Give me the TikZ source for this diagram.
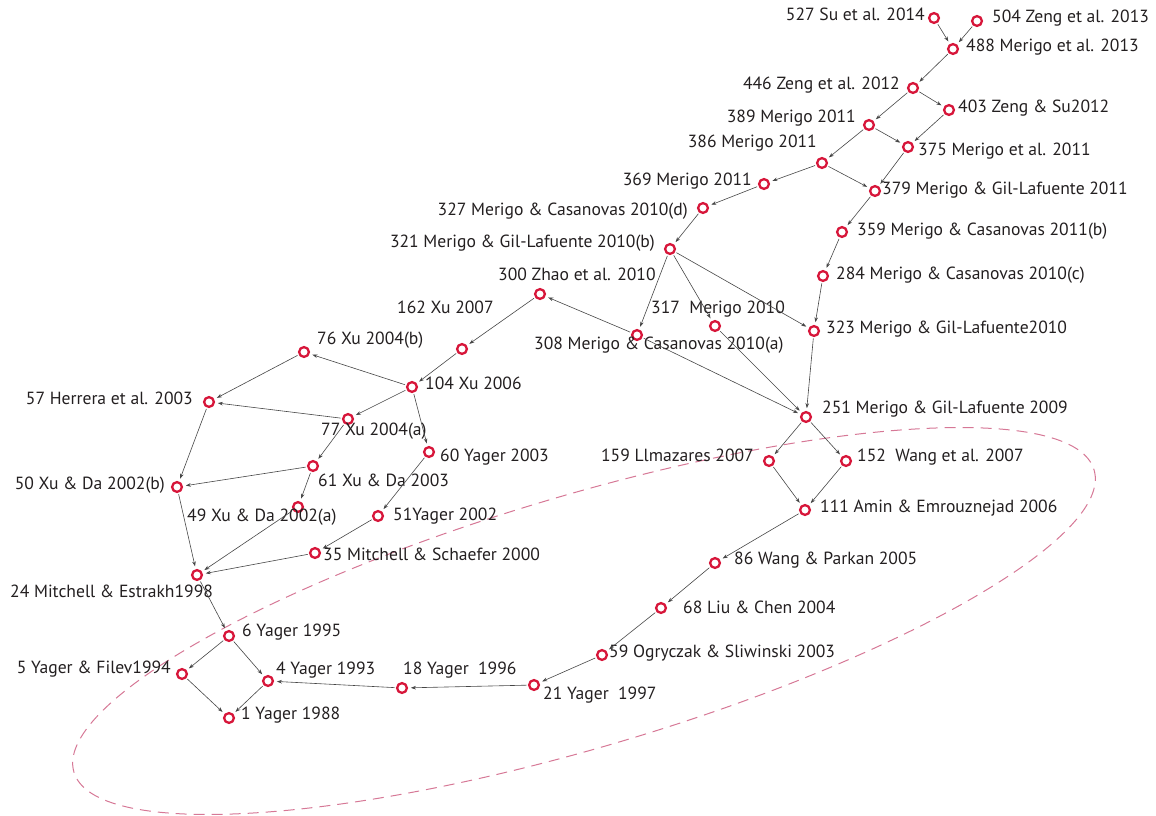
\documentclass[tikz,border=0pt]{standalone}
\usepackage{fontspec}
\setmainfont{PT Sans}
\usetikzlibrary{arrows.meta}
\definecolor{ring}{RGB}{215,22,58}
\definecolor{ink}{RGB}{35,31,32}
\definecolor{wire}{RGB}{70,70,70}
\definecolor{hull}{RGB}{214,120,150}
\begin{document}
\begin{tikzpicture}[x=1pt,y=-1pt,
  paper/.style={circle,draw=ring,line width=2.3pt,minimum size=9.8pt,inner sep=0pt,outer sep=1pt},
  cite/.style={-{Stealth[length=5pt,width=3.6pt]},draw=wire,line width=0.6pt,shorten >=3pt,shorten <=1.5pt},
  lbl/.style={text=ink,font=\fontsize{17.6}{20}\selectfont,inner sep=0pt},
  lw/.style={lbl,anchor=mid west},
  le/.style={lbl,anchor=mid east}]
\useasboundingbox (0,0) rectangle (1156,816);

% dashed hull around the older part of the main path
\draw[hull,line width=1pt,dash pattern=on 11pt off 7pt,rotate around={16.5:(584,621)}]
  (584,621) ellipse [x radius=532,y radius=126];

% papers
\node[paper] (p527) at (934,18) {};
\node[paper] (p504) at (977,21) {};
\node[paper] (p488) at (953,49) {};
\node[paper] (p446) at (913,88) {};
\node[paper] (p403) at (949,110) {};
\node[paper] (p389) at (869,125) {};
\node[paper] (p375) at (908,147) {};
\node[paper] (p386) at (822,163) {};
\node[paper] (p369) at (764,184) {};
\node[paper] (p379) at (875,191) {};
\node[paper] (p327) at (703,208) {};
\node[paper] (p359) at (842,232) {};
\node[paper] (p321) at (670,249) {};
\node[paper] (p284) at (823,276) {};
\node[paper] (p300) at (540,294) {};
\node[paper] (p317) at (715,326) {};
\node[paper] (p308) at (637,335) {};
\node[paper] (p323) at (814,331) {};
\node[paper] (p162) at (462,349) {};
\node[paper] (p76) at (304,352) {};
\node[paper] (p104) at (412,387) {};
\node[paper] (p57) at (209,402) {};
\node[paper] (p251) at (806,417) {};
\node[paper] (p77) at (348,419) {};
\node[paper] (p60) at (429,452) {};
\node[paper] (p159) at (769,461) {};
\node[paper] (p152) at (846,461) {};
\node[paper] (p61) at (313,466) {};
\node[paper] (p50) at (177,487) {};
\node[paper] (p111) at (805,510) {};
\node[paper] (p49) at (298,507) {};
\node[paper] (p51) at (378,516) {};
\node[paper] (p35) at (315,553) {};
\node[paper] (p86) at (715,563) {};
\node[paper] (p24) at (197,575) {};
\node[paper] (p68) at (661,608) {};
\node[paper] (p6) at (229,636) {};
\node[paper] (p59) at (602,655) {};
\node[paper] (p5) at (182,674) {};
\node[paper] (p4) at (268,681) {};
\node[paper] (p18) at (402,688) {};
\node[paper] (p21) at (534,685) {};
\node[paper] (p1) at (229,718) {};

% labels
\node[le] (t527) at (925,18) {527 Su et al. 2014};
\node[lw] (t504) at (992,20) {504 Zeng et al. 2013};
\node[lw] (t488) at (966,49) {488 Merigo et al. 2013};
\node[le] (t446) at (900,87) {446 Zeng et al. 2012};
\node[lw] (t403) at (958,110) {403 Zeng \& Su2012};
\node[le] (t389) at (856,120) {389 Merigo 2011};
\node[lw] (t375) at (918,153) {375 Merigo et al. 2011};
\node[le] (t386) at (817,145) {386 Merigo 2011};
\node[le] (t369) at (752,183) {369 Merigo 2011};
\node[lw] (t379) at (882,192) {379 Merigo \& Gil-Lafuente 2011};
\node[le] (t327) at (688,213) {327 Merigo \& Casanovas 2010(d)};
\node[lw] (t359) at (857,233) {359 Merigo \& Casanovas 2011(b)};
\node[le] (t321) at (655,245) {321 Merigo \& Gil-Lafuente 2010(b)};
\node[lw] (t284) at (836,277) {284 Merigo \& Casanovas 2010(c)};
\node[lw] (t300) at (498,278) {300 Zhao et al. 2010};
\node[lw] (t162) at (397,311) {162 Xu 2007};
\node[lw] (t317) at (651,311) {317\ \ Merigo 2010};
\node[lw] (t323) at (826,331) {323 Merigo \& Gil-Lafuente2010};
\node[lw] (t76) at (317,342) {76 Xu 2004(b)};
\node[lw] (t308) at (534,347) {308 Merigo \& Casanovas 2010(a)};
\node[lw] (t104) at (425,387) {104 Xu 2006};
\node[le] (t57) at (193,402) {57 Herrera et al. 2003};
\node[lw] (t251) at (822,411) {251 Merigo \& Gil-Lafuente 2009};
\node[lw] (t77) at (321,433) {77 Xu 2004(a)};
\node[lw] (t60) at (440,459) {60 Yager 2003};
\node[le] (t159) at (754,459) {159 Llmazares 2007};
\node[lw] (t152) at (857,459) {152\ \ Wang et al. 2007};
\node[lw] (t61) at (318,484) {61 Xu \& Da 2003};
\node[le] (t50) at (165,487) {50 Xu \& Da 2002(b)};
\node[lw] (t111) at (820,510) {111 Amin \& Emrouznejad 2006};
\node[lw] (t49) at (187,519) {49 Xu \& Da 2002(a)};
\node[lw] (t51) at (393,518) {51Yager 2002};
\node[lw] (t35) at (323,558) {35 Mitchell \& Schaefer 2000};
\node[lw] (t86) at (734,562) {86 Wang \& Parkan 2005};
\node[lw] (t24) at (10,595) {24 Mitchell \& Estrakh1998};
\node[lw] (t68) at (683,611) {68 Liu \& Chen 2004};
\node[lw] (t6) at (242,634) {6 Yager 1995};
\node[lw] (t59) at (609,655) {59 Ogryczak \& Sliwinski 2003};
\node[le] (t5) at (171,671) {5 Yager \& Filev1994};
\node[lw] (t4) at (276,672) {4 Yager 1993};
\node[lw] (t18) at (403,672) {18 Yager\ \ 1996};
\node[lw] (t21) at (543,697) {21 Yager\ \ 1997};
\node[lw] (t1) at (241,717) {1 Yager 1988};

% citation links
\foreach \a/\b in {527/488,504/488,488/446,446/389,446/403,403/375,389/375,389/386,
  375/379,386/369,386/379,369/327,327/321,379/359,359/284,284/323,321/308,321/317,
  321/323,308/300,308/251,317/251,323/251,300/162,162/104,104/76,104/77,104/60,
  76/57,77/57,77/61,57/50,61/50,61/49,60/51,50/24,49/24,51/35,35/24,24/6,6/5,6/4,
  5/1,4/1,18/4,21/18,59/21,68/59,86/68,111/86,159/111,152/111,251/159,251/152}
  \draw[cite] (p\a) -- (p\b);
\end{tikzpicture}
\end{document}
